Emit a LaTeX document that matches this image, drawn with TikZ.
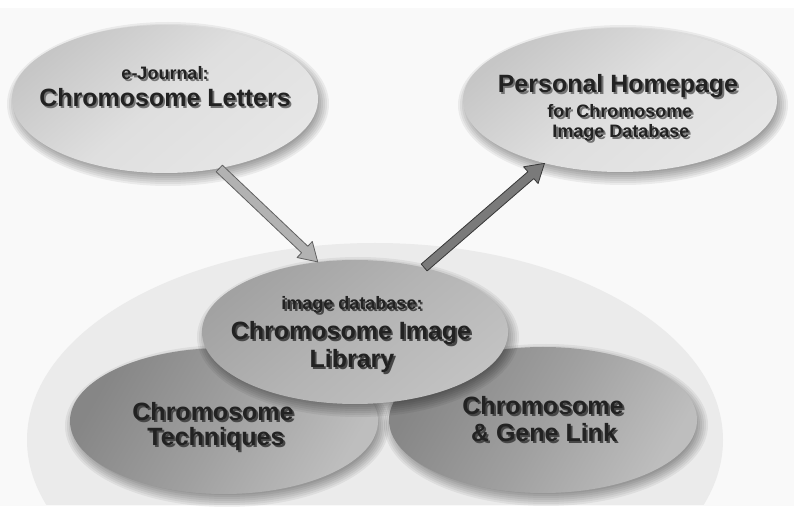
\documentclass[tikz,border=0pt]{standalone}
\usepackage{fontspec}
\setmainfont{Liberation Sans}
\usetikzlibrary{shapes.geometric,calc}

\definecolor{ink}{HTML}{222222}
\definecolor{paper}{HTML}{F9F9F9}
\definecolor{blobfill}{HTML}{EBEBEB}
\definecolor{lightA}{HTML}{C6C6C6}
\definecolor{lightB}{HTML}{DFDFDF}
\definecolor{lightC}{HTML}{E6E6E6}
\definecolor{midA}{HTML}{A2A2A2}
\definecolor{midB}{HTML}{B4B4B4}
\definecolor{midC}{HTML}{C2C2C2}
\definecolor{darkA}{HTML}{868686}
\definecolor{darkB}{HTML}{A0A0A0}
\definecolor{darkC}{HTML}{BEBEBE}

% text with an offset shadow: #1 shadow colour, #2 text
\newcommand\shd[2]{\makebox[0pt][l]{\hspace{1.4pt}\raisebox{-1.4pt}{\textcolor{#1}{#2}}}#2}
\newcommand\shl[1]{\shd{black!55}{#1}}
\newcommand\shm[1]{\shd{black!72}{#1}}

% soft drop shadow under an ellipse: centre (#1,#2), radii #3, #4
\newcommand\softshadow[4]{%
  \foreach \k in {0,...,7}
    \fill[black,opacity=0.06] (#1+3,#2+5) ellipse [x radius=#3+8-2*\k, y radius=#4+8-2*\k];}

% broad arrow as a polygon from #2 to the tip #3
\newcommand\fatarrow[3]{%
  \coordinate (fa-h) at ($(#3)!13.5pt!(#2)$);
  \filldraw[#1] ($(#2)!3.4pt!90:(#3)$) -- ($(fa-h)!3.4pt!90:(#3)$)
    -- ($(fa-h)!8.3pt!90:(#3)$) -- (#3) -- ($(fa-h)!8.3pt!-90:(#3)$)
    -- ($(fa-h)!3.4pt!-90:(#3)$) -- ($(#2)!3.4pt!-90:(#3)$) -- cycle;}

\tikzset{
  bubble/.style 2 args={ellipse, inner sep=0pt, draw=none,
    minimum width=#1*1.5pt, minimum height=#2*1.5pt},
  lighttone/.style={top color=lightA, bottom color=lightC, middle color=lightB, shading angle=40},
  midtone/.style={top color=midA, bottom color=midC, middle color=midB, shading angle=40},
  darktone/.style={top color=darkA, bottom color=darkC, middle color=darkB, shading angle=60},
  big/.style={font=\fontsize{18.75}{21}\bfseries\selectfont, text=ink, inner sep=0pt, anchor=base},
  small/.style={font=\fontsize{13.5}{15}\bfseries\selectfont, text=ink, inner sep=0pt, anchor=base},
  paleshaft/.style={fill=black!30, draw=black!62, line width=0.6pt, line join=round},
  darkshaft/.style={fill=black!52, draw=black!78, line width=0.6pt, line join=round}
}

\begin{document}
\begin{tikzpicture}[x=0.75pt,y=-0.75pt]
\useasboundingbox (0,0) rectangle (794,520);
\fill[white] (0,0) rectangle (794,520);
\fill[paper] (0,8) rectangle (794,506);

% pale base area holding the library group
\begin{scope}
  \clip (0,0) rectangle (794,505);
  \fill[blobfill] (375,440) ellipse [x radius=348, y radius=197];
\end{scope}

% top row
\softshadow{165}{99}{153}{74}
\node[bubble={153}{74}, lighttone] (jl) at (165,99) {};
\softshadow{620}{100}{157}{72}
\node[bubble={157}{72}, lighttone] (ph) at (620,100) {};

% library group
\softshadow{224}{421}{154}{73}
\node[bubble={154}{73}, darktone] (tech) at (224,421) {};
\softshadow{543}{420}{154}{73}
\node[bubble={154}{73}, darktone] (gene) at (543,420) {};
\softshadow{355}{332}{153}{72}
\node[bubble={153}{72}, midtone] (lib) at (355,332) {};

% arrows
\fatarrow{paleshaft}{jl.-52}{lib.118}
\fatarrow{darkshaft}{lib.43}{ph.220}

% labels
\node[small] (jl1) at (165,80) {\shl{e-Journal:}};
\node[big]   (jl2) at (165,107) {\shl{Chromosome Letters}};

\node[big]   (ph1) at (618,93)  {\shl{Personal Homepage}};
\node[small] (ph2) at (620,118) {\shl{for Chromosome}};
\node[small] (ph3) at (621,138) {\shl{Image Database}};

\node[small] (lib1) at (352,310) {\shm{image database:}};
\node[big]   (lib2) at (351,340) {\shm{Chromosome Image}};
\node[big]   (lib3) at (352,368) {\shm{Library}};

\node[big] (tech1) at (213,421) {\shm{Chromosome}};
\node[big] (tech2) at (216,446) {\shm{Techniques}};

\node[big] (gene1) at (543,415) {\shm{Chromosome}};
\node[big] (gene2) at (544,442) {\shm{\& Gene Link}};
\end{tikzpicture}
\end{document}
